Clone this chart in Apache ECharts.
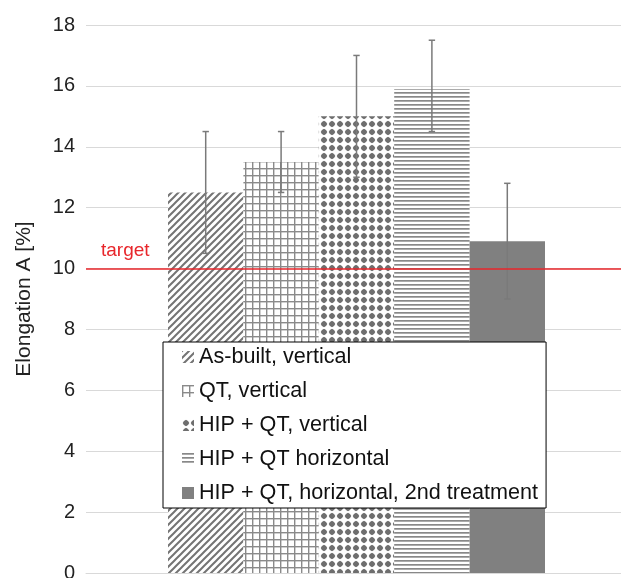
<!DOCTYPE html>
<html>
<head>
<meta charset="utf-8">
<script src="https://cdn.jsdelivr.net/npm/echarts@6/dist/echarts.min.js"></script>
<style>html,body{margin:0;padding:0;background:#fff}#c{width:621px;height:578px}</style>
</head>
<body>
<div id="c"></div>
<script>
const seriesNames = ['As-built, vertical', 'QT, vertical', 'HIP + QT, vertical', 'HIP + QT horizontal', 'HIP + QT, horizontal, 2nd treatment'];
const values = [12.5, 13.5, 15.0, 15.9, 10.9];
const errLow = [10.5, 12.5, 13.0, 14.5, 9.0];
const errHigh = [14.5, 14.5, 17.0, 17.5, 12.8];
const yTicks = [0, 2, 4, 6, 8, 10, 12, 14, 16, 18];
const targetValue = 10;

const FONT = '"Liberation Sans", Arial, sans-serif';
const BAR_W = 75.4;

function tile(w, h, draw) {
  const c = document.createElement('canvas');
  c.width = w; c.height = h;
  const ctx = c.getContext('2d');
  ctx.fillStyle = '#fff';
  ctx.fillRect(0, 0, w, h);
  draw(ctx, w, h);
  return { image: c, repeat: 'repeat' };
}
const patDiag = tile(7, 7, (ctx, s) => {
  ctx.strokeStyle = '#747474'; ctx.lineWidth = 2.0;
  ctx.beginPath();
  ctx.moveTo(-2, s + 2); ctx.lineTo(s + 2, -2);
  ctx.moveTo(-2, 2); ctx.lineTo(2, -2);
  ctx.moveTo(s - 2, s + 2); ctx.lineTo(s + 2, s - 2);
  ctx.stroke();
});
const patGrid = tile(7, 7, (ctx, s) => {
  ctx.fillStyle = '#8a8a8a';
  ctx.fillRect(0, 0, 1.4, s);
  ctx.fillRect(0, 0, s, 1.4);
});
const patDiamond = tile(8, 8, (ctx, s) => {
  ctx.fillStyle = '#6e6e6e';
  ctx.beginPath();
  ctx.moveTo(4, 0.7); ctx.lineTo(7.3, 4); ctx.lineTo(4, 7.3); ctx.lineTo(0.7, 4);
  ctx.closePath(); ctx.fill();
  ctx.beginPath(); ctx.arc(4, 4, 2.7, 0, Math.PI * 2); ctx.fill();
});
const patHoriz = tile(4, 4, (ctx, s) => {
  ctx.fillStyle = '#888';
  ctx.fillRect(0, 0, s, 1.7);
});
const fills = [patDiag, patGrid, patDiamond, patHoriz, '#808080'];

const barSeries = seriesNames.map((name, i) => ({
  name: name,
  type: 'bar',
  barWidth: BAR_W,
  barGap: '0%',
  itemStyle: { color: fills[i] },
  data: [values[i]],
  z: 2
}));

const errSeries = {
  type: 'custom',
  name: 'err',
  z: 5,
  data: values.map((v, i) => [0, errLow[i], errHigh[i], i]),
  encode: { x: 0, y: [1, 2] },
  renderItem: function (params, api) {
    const n = seriesNames.length;
    const off = (api.value(3) - (n - 1) / 2) * BAR_W;
    const lo = api.coord([api.value(0), api.value(1)]);
    const hi = api.coord([api.value(0), api.value(2)]);
    const x = lo[0] + off;
    const cap = 3.2;
    const st = { stroke: '#7a7a7a', lineWidth: 1.5 };
    return {
      type: 'group',
      children: [
        { type: 'line', shape: { x1: x, y1: lo[1], x2: x, y2: hi[1] }, style: st },
        { type: 'line', shape: { x1: x - cap, y1: lo[1], x2: x + cap, y2: lo[1] }, style: st },
        { type: 'line', shape: { x1: x - cap, y1: hi[1], x2: x + cap, y2: hi[1] }, style: st }
      ]
    };
  },
  markLine: {
    silent: true,
    symbol: 'none',
    z: 6,
    lineStyle: { color: '#e8262b', width: 1.5, type: 'solid' },
    label: {
      show: true, formatter: 'target', position: 'insideStartTop',
      color: '#e8262b', fontSize: 19, fontFamily: FONT, distance: [15, 8]
    },
    data: [{ yAxis: targetValue }]
  }
};

const chart = echarts.init(document.getElementById('c'));
chart.setOption({
  animation: false,
  backgroundColor: '#fff',
  grid: { left: 86, top: 25, width: 541, bottom: 5, containLabel: false, outerBoundsMode: 'none' },
  legend: {
    data: seriesNames,
    orient: 'vertical',
    left: 163, top: 342,
    itemWidth: 12, itemHeight: 12, itemGap: 10,
    padding: [3, 8, 3, 19],
    borderColor: '#000', borderWidth: 1, backgroundColor: '#fff',
    selectedMode: false,
    icon: 'rect',
    textStyle: { fontSize: 21.6, lineHeight: 24, color: '#111', fontFamily: FONT },
    z: 10
  },
  xAxis: {
    type: 'category',
    data: [''],
    axisLine: { show: true, lineStyle: { color: '#d9d9d9' } },
    axisTick: { show: false },
    axisLabel: { show: false }
  },
  yAxis: {
    type: 'value',
    min: yTicks[0], max: yTicks[yTicks.length - 1], interval: 2,
    name: 'Elongation A [%]',
    nameLocation: 'middle',
    nameGap: 51,
    nameTextStyle: { fontSize: 21, color: '#222', fontFamily: FONT },
    axisLine: { show: false },
    axisTick: { show: false },
    axisLabel: { fontSize: 20, color: '#222', fontFamily: FONT, margin: 11 },
    splitLine: { lineStyle: { color: '#d9d9d9', width: 1 } }
  },
  series: barSeries.concat([errSeries])
});
</script>
</body>
</html>
